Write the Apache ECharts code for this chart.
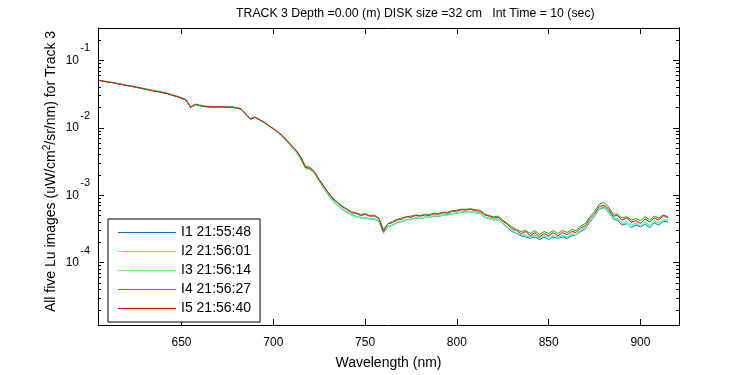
<!DOCTYPE html>
<html>
<head>
<meta charset="utf-8">
<script src="https://cdn.jsdelivr.net/npm/echarts/dist/echarts.min.js"></script>
<style>
  html, body { margin: 0; padding: 0; background: #fff; }
  #chart { width: 750px; height: 375px; }
</style>
</head>
<body>
<div id="chart"></div>
<script>
// wavelength grid (nm)
const wavelengths = [
  605, 607.5, 610, 612.5, 615, 617.5, 620, 622.5, 625, 627.5,
  630, 632.5, 635, 637.5, 640, 642.5, 645, 647.5, 650, 652.5,
  655, 657.5, 660, 662.5, 665, 667.5, 670, 672.5, 675, 677.5,
  680, 682.5, 685, 687.5, 690, 692.5, 695, 697.5, 700, 702.5,
  705, 707.5, 710, 712.5, 715, 717.5, 720, 722.5, 725, 727.5,
  730, 732.5, 735, 737.5, 740, 742.5, 745, 747.5, 750, 752.5,
  755, 757.5, 760, 762.5, 765, 767.5, 770, 772.5, 775, 777.5,
  780, 782.5, 785, 787.5, 790, 792.5, 795, 797.5, 800, 802.5,
  805, 807.5, 810, 812.5, 815, 817.5, 820, 822.5, 825, 827.5,
  830, 832.5, 835, 837.5, 840, 842.5, 845, 847.5, 850, 852.5,
  855, 857.5, 860, 862.5, 865, 867.5, 870, 872.5, 875, 877.5,
  880, 882.5, 885, 887.5, 890, 892.5, 895, 897.5, 900, 902.5,
  905, 907.5, 910, 912.5, 915
]

const i1 = [
  0.0504, 0.0491, 0.0478, 0.0467, 0.0452, 0.0441, 0.0426, 0.0416, 0.0401, 0.0391,
  0.0377, 0.0366, 0.0354, 0.0344, 0.0333, 0.0322, 0.0306, 0.0292, 0.0277, 0.0258,
  0.0203, 0.0223, 0.0215, 0.0208, 0.0206, 0.0205, 0.0205, 0.0205, 0.0204, 0.0203,
  0.0199, 0.0190, 0.0159, 0.0136, 0.0144, 0.0132, 0.0121, 0.0107, 0.0096, 0.0086,
  0.0074, 0.0062, 0.0052, 0.0044, 0.0034, 0.0025, 0.0024, 0.0021, 0.00162, 0.00126,
  0.00101, 0.00082, 0.00071, 0.00062, 0.00057, 0.00051, 0.00048, 0.00047, 0.00046, 0.00045,
  0.00044, 0.00041, 0.00028, 0.00034, 0.00036, 0.00039, 0.00041, 0.00043, 0.00044, 0.00046,
  0.00045, 0.00047, 0.00047, 0.00049, 0.00048, 0.00051, 0.00051, 0.00053, 0.00054, 0.00056,
  0.00057, 0.00057, 0.00055, 0.00054, 0.00047, 0.00045, 0.00043, 0.00044, 0.00038, 0.00033,
  0.00029, 0.00027, 0.00025, 0.00024, 0.00023, 0.00024, 0.00022, 0.00024, 0.00022, 0.00024,
  0.00023, 0.00024, 0.00023, 0.00025, 0.00026, 0.00029, 0.00032, 0.00040, 0.00049, 0.00061,
  0.00066, 0.00057, 0.00045, 0.00042, 0.00036, 0.00038, 0.00033, 0.00036, 0.00034, 0.00037,
  0.00033, 0.00039, 0.00036, 0.00041, 0.00040
]
const i2 = [
  0.0508, 0.0495, 0.0481, 0.0471, 0.0457, 0.0446, 0.0431, 0.0421, 0.0406, 0.0396,
  0.0382, 0.0370, 0.0358, 0.0349, 0.0338, 0.0328, 0.0311, 0.0297, 0.0281, 0.0262,
  0.0205, 0.0226, 0.0218, 0.0211, 0.0209, 0.0208, 0.0208, 0.0208, 0.0207, 0.0206,
  0.0201, 0.0192, 0.0162, 0.0137, 0.0145, 0.0133, 0.0122, 0.0108, 0.0097, 0.0086,
  0.0075, 0.0063, 0.0053, 0.0044, 0.0035, 0.0025, 0.0024, 0.0021, 0.00164, 0.00128,
  0.00102, 0.00083, 0.00072, 0.00063, 0.00056, 0.00052, 0.00049, 0.00046, 0.00047, 0.00045,
  0.00045, 0.00042, 0.00027, 0.00035, 0.00036, 0.00040, 0.00041, 0.00044, 0.00044, 0.00046,
  0.00046, 0.00048, 0.00047, 0.00050, 0.00049, 0.00051, 0.00052, 0.00054, 0.00055, 0.00057,
  0.00057, 0.00058, 0.00056, 0.00055, 0.00048, 0.00046, 0.00044, 0.00044, 0.00039, 0.00034,
  0.00030, 0.00027, 0.00026, 0.00025, 0.00024, 0.00025, 0.00023, 0.00025, 0.00022, 0.00025,
  0.00024, 0.00025, 0.00024, 0.00026, 0.00026, 0.00030, 0.00033, 0.00041, 0.00050, 0.00063,
  0.00068, 0.00058, 0.00046, 0.00044, 0.00038, 0.00041, 0.00036, 0.00038, 0.00035, 0.00040,
  0.00036, 0.00041, 0.00039, 0.00043, 0.00042
]
const i3 = [
  0.0505, 0.0491, 0.0477, 0.0466, 0.0451, 0.0439, 0.0424, 0.0413, 0.0399, 0.0389,
  0.0375, 0.0363, 0.0351, 0.0341, 0.0330, 0.0319, 0.0303, 0.0289, 0.0274, 0.0256,
  0.0201, 0.0221, 0.0213, 0.0206, 0.0204, 0.0203, 0.0203, 0.0203, 0.0202, 0.0201,
  0.0197, 0.0188, 0.0158, 0.0134, 0.0142, 0.0130, 0.0119, 0.0106, 0.0095, 0.0085,
  0.0074, 0.0062, 0.0052, 0.0043, 0.0034, 0.0025, 0.0024, 0.0021, 0.00160, 0.00124,
  0.00099, 0.00080, 0.00070, 0.00061, 0.00055, 0.00051, 0.00048, 0.00046, 0.00046, 0.00044,
  0.00045, 0.00041, 0.00029, 0.00034, 0.00036, 0.00039, 0.00040, 0.00043, 0.00043, 0.00046,
  0.00045, 0.00047, 0.00047, 0.00049, 0.00049, 0.00051, 0.00051, 0.00053, 0.00054, 0.00056,
  0.00056, 0.00057, 0.00055, 0.00054, 0.00048, 0.00045, 0.00043, 0.00043, 0.00038, 0.00034,
  0.00030, 0.00028, 0.00026, 0.00026, 0.00024, 0.00026, 0.00023, 0.00025, 0.00024, 0.00025,
  0.00023, 0.00026, 0.00024, 0.00027, 0.00026, 0.00031, 0.00033, 0.00042, 0.00050, 0.00062,
  0.00069, 0.00060, 0.00047, 0.00045, 0.00039, 0.00037, 0.00034, 0.00039, 0.00035, 0.00038,
  0.00035, 0.00042, 0.00038, 0.00044, 0.00043
]
const i4 = [
  0.0504, 0.0490, 0.0476, 0.0466, 0.0450, 0.0439, 0.0423, 0.0414, 0.0398, 0.0389,
  0.0374, 0.0363, 0.0351, 0.0342, 0.0330, 0.0320, 0.0303, 0.0290, 0.0274, 0.0256,
  0.0202, 0.0221, 0.0213, 0.0206, 0.0204, 0.0203, 0.0203, 0.0204, 0.0202, 0.0201,
  0.0197, 0.0188, 0.0160, 0.0135, 0.0143, 0.0131, 0.0120, 0.0108, 0.0097, 0.0087,
  0.0076, 0.0065, 0.0055, 0.0046, 0.0037, 0.0027, 0.0026, 0.0022, 0.00172, 0.00137,
  0.00110, 0.00090, 0.00079, 0.00069, 0.00063, 0.00057, 0.00055, 0.00052, 0.00053, 0.00050,
  0.00051, 0.00046, 0.00031, 0.00038, 0.00041, 0.00044, 0.00046, 0.00048, 0.00049, 0.00051,
  0.00050, 0.00052, 0.00052, 0.00054, 0.00054, 0.00056, 0.00056, 0.00059, 0.00060, 0.00062,
  0.00062, 0.00063, 0.00061, 0.00060, 0.00053, 0.00050, 0.00048, 0.00049, 0.00043, 0.00038,
  0.00034, 0.00031, 0.00029, 0.00030, 0.00027, 0.00030, 0.00026, 0.00029, 0.00027, 0.00030,
  0.00027, 0.00030, 0.00028, 0.00031, 0.00030, 0.00035, 0.00038, 0.00048, 0.00057, 0.00074,
  0.00078, 0.00068, 0.00053, 0.00052, 0.00046, 0.00048, 0.00043, 0.00045, 0.00042, 0.00048,
  0.00043, 0.00049, 0.00046, 0.00051, 0.00048
]
const i5 = [
  0.0505, 0.0492, 0.0477, 0.0468, 0.0451, 0.0440, 0.0424, 0.0415, 0.0399, 0.0390,
  0.0375, 0.0364, 0.0352, 0.0343, 0.0331, 0.0321, 0.0304, 0.0291, 0.0275, 0.0257,
  0.0200, 0.0222, 0.0214, 0.0207, 0.0205, 0.0204, 0.0204, 0.0205, 0.0203, 0.0202,
  0.0198, 0.0189, 0.0160, 0.0134, 0.0143, 0.0131, 0.0121, 0.0108, 0.0097, 0.0087,
  0.0076, 0.0064, 0.0054, 0.0046, 0.0036, 0.0026, 0.0025, 0.0022, 0.00170, 0.00134,
  0.00108, 0.00088, 0.00077, 0.00067, 0.00062, 0.00055, 0.00054, 0.00050, 0.00052, 0.00049,
  0.00049, 0.00045, 0.00029, 0.00038, 0.00039, 0.00043, 0.00044, 0.00048, 0.00047, 0.00050,
  0.00049, 0.00051, 0.00050, 0.00053, 0.00052, 0.00055, 0.00054, 0.00058, 0.00058, 0.00061,
  0.00060, 0.00062, 0.00059, 0.00058, 0.00051, 0.00049, 0.00046, 0.00047, 0.00041, 0.00037,
  0.00032, 0.00030, 0.00027, 0.00029, 0.00025, 0.00028, 0.00024, 0.00027, 0.00025, 0.00028,
  0.00025, 0.00028, 0.00026, 0.00029, 0.00028, 0.00033, 0.00035, 0.00045, 0.00053, 0.00068,
  0.00071, 0.00063, 0.00049, 0.00050, 0.00043, 0.00046, 0.00040, 0.00042, 0.00038, 0.00045,
  0.00040, 0.00046, 0.00043, 0.00050, 0.00046
]

const seriesNames = ['I1 21:55:48', 'I2 21:56:01', 'I3 21:56:14', 'I4 21:56:27', 'I5 21:56:40']
const xTicks = [650, 700, 750, 800, 850, 900]
const yMajorTicks = [1e-4, 1e-3, 1e-2, 1e-1]
const yMinorTicks = [
  2e-5, 3e-5, 4e-5, 5e-5, 6e-5, 7e-5, 8e-5, 9e-5,
  2e-4, 3e-4, 4e-4, 5e-4, 6e-4, 7e-4, 8e-4, 9e-4,
  2e-3, 3e-3, 4e-3, 5e-3, 6e-3, 7e-3, 8e-3, 9e-3,
  2e-2, 3e-2, 4e-2, 5e-2, 6e-2, 7e-2, 8e-2, 9e-2,
  2e-1
]

const colors = ['#0a6ee0', '#22eeff', '#66ff66', '#00b400', '#ff0000']
const FONT = '"Liberation Sans", Arial, sans-serif'
const X_MIN = 604.5
const X_MAX = 921
const Y_MIN = 1.19e-5
const Y_MAX = 0.302

const chart = echarts.init(document.getElementById('chart'))

function pairs(vals) {
  return wavelengths.map(function(w, k) { return [w, vals[k]] })
}

function xAx(pos, ticks, len, showLabel) {
  return {
    type: 'value',
    position: pos,
    min: X_MIN,
    max: X_MAX,
    axisLine: { show: true, onZero: false, lineStyle: { color: '#000', width: 1 } },
    axisTick: { show: true, inside: true, length: len, customValues: ticks, lineStyle: { color: '#000' } },
    axisLabel: {
      show: showLabel,
      customValues: ticks,
      color: '#000',
      fontSize: 12,
      fontFamily: FONT,
      margin: 12
    },
    splitLine: { show: false }
  }
}

function yAx(pos, ticks, len, showLabel) {
  return {
    type: 'log',
    logBase: 10,
    position: pos,
    min: Y_MIN,
    max: Y_MAX,
    axisLine: { show: true, onZero: false, lineStyle: { color: '#000', width: 1 } },
    axisTick: { show: true, inside: true, length: len, customValues: ticks, lineStyle: { color: '#000' } },
    axisLabel: {
      show: showLabel,
      customValues: ticks,
      color: '#000',
      fontFamily: FONT,
      margin: 8,
      formatter: function(v) {
        const e = Math.round(Math.log10(v))
        return '{e|' + e + '}\n{b|10}\n{e| }'
      },
      rich: {
        e: { fontSize: 11, lineHeight: 12, fontFamily: FONT, color: '#000' },
        b: { fontSize: 12, lineHeight: 12, fontFamily: FONT, color: '#000', padding: [0, 11, 0, 0] }
      }
    },
    splitLine: { show: false },
    minorTick: { show: false }
  }
}

const xAxes = [xAx('bottom', xTicks, 6, true), xAx('top', xTicks, 6, false)]
xAxes[0].name = 'Wavelength (nm)'
xAxes[0].nameLocation = 'middle'
xAxes[0].nameGap = 31
xAxes[0].nameMoveOverlap = false
xAxes[0].nameTextStyle = { color: '#000', fontSize: 14, fontFamily: FONT }

const yAxes = [
  yAx('left', yMajorTicks, 6, true),
  yAx('left', yMinorTicks, 3, false),
  yAx('right', yMajorTicks, 6, false),
  yAx('right', yMinorTicks, 3, false)
]
yAxes[0].name = 'All five Lu images (uW/cm{sup|2}/sr/nm) for Track 3'
yAxes[0].nameLocation = 'middle'
yAxes[0].nameGap = 37
yAxes[0].nameMoveOverlap = false
yAxes[0].nameTextStyle = {
  color: '#000',
  fontSize: 14,
  fontFamily: FONT,
  padding: [0, 0, 0, 10],
  rich: {
    sup: { fontSize: 10, fontFamily: FONT, color: '#000', padding: [0, 0, 9, 0] }
  }
}

chart.setOption({
  animation: false,
  backgroundColor: '#fff',
  title: {
    text: 'TRACK 3 Depth =0.00 (m) DISK size =32 cm   Int Time = 10 (sec)',
    left: 231,
    top: 3,
    textStyle: { color: '#000', fontSize: 12.3, fontWeight: 'normal', fontFamily: FONT }
  },
  grid: { left: 98, right: 71, top: 28, bottom: 44, containLabel: false },
  legend: {
    orient: 'vertical',
    left: 108,
    top: 219,
    backgroundColor: '#fff',
    borderColor: '#000',
    borderWidth: 1,
    borderRadius: 0,
    padding: [6, 9, 6, 10],
    itemWidth: 58,
    itemHeight: 1,
    itemGap: 4,
    icon: 'rect',
    itemStyle: { borderWidth: 0 },
    textStyle: { color: '#000', fontSize: 14, lineHeight: 15, fontFamily: FONT },
    data: seriesNames
  },
  xAxis: xAxes,
  yAxis: yAxes,
  series: [i1, i2, i3, i4, i5].map(function(vals, k) {
    return {
      name: seriesNames[k],
      type: 'line',
      xAxisIndex: 0,
      yAxisIndex: 0,
      symbol: 'none',
      showSymbol: false,
      color: colors[k],
      lineStyle: { color: colors[k], width: 1 },
      data: pairs(vals)
    }
  })
})
</script>
</body>
</html>
